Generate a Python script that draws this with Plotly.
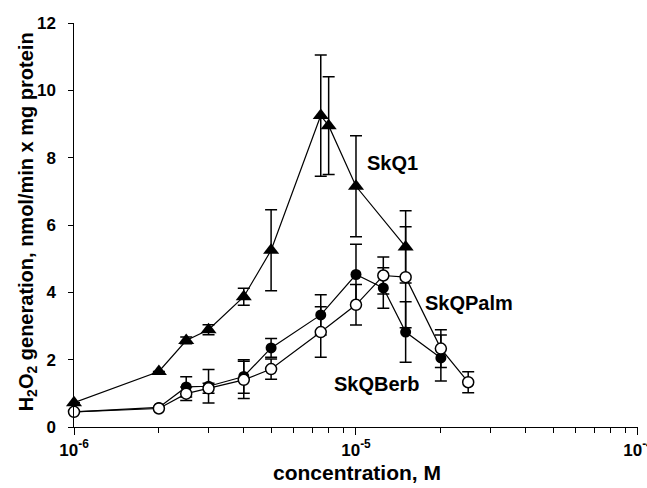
import plotly.graph_objects as go

# SkQ1 (filled triangles)
x_skq1 = [1e-6, 2e-6, 2.5e-6, 3e-6, 4e-6, 5e-6, 7.5e-6, 8e-6, 1e-5, 1.5e-5]
y_skq1 = [0.72, 1.65, 2.57, 2.89, 3.87, 5.25, 9.25, 8.95, 7.15, 5.35]
e_skq1 = [0, 0, 0.1, 0.15, 0.25, 1.2, 1.8, 1.45, 1.5, 1.07]

# filled circles
x_fill = [1e-6, 2e-6, 2.5e-6, 3e-6, 4e-6, 5e-6, 7.5e-6, 1e-5, 1.25e-5, 1.5e-5, 2e-5]
y_fill = [0.45, 0.58, 1.19, 1.21, 1.5, 2.35, 3.33, 4.53, 4.13, 2.82, 2.05]
e_fill = [0, 0, 0.3, 0.5, 0.5, 0.28, 0.6, 0.9, 0.6, 0.9, 0.68]

# open circles
x_open = [1e-6, 2e-6, 2.5e-6, 3e-6, 4e-6, 5e-6, 7.5e-6, 1e-5, 1.25e-5, 1.5e-5, 2e-5, 2.5e-5]
y_open = [0.45, 0.55, 0.99, 1.15, 1.4, 1.72, 2.82, 3.63, 4.5, 4.45, 2.33, 1.33]
e_open = [0, 0, 0.2, 0.15, 0.55, 0.3, 0.75, 0.6, 0.55, 1.5, 0.56, 0.31]

x_major = [1e-6, 1e-5, 1e-4]
x_major_text = ["10<sup>-6</sup>", "10<sup>-5</sup>", "10<sup>-4</sup>"]
y_ticks = [0, 2, 4, 6, 8, 10, 12]
y_tick_text = [f"{v}\u2002" for v in y_ticks]

FONT = "Liberation Sans, Arial, Helvetica, sans-serif"

def err(vals):
    return dict(type="data", array=vals, visible=True, color="black",
                thickness=1.5, width=6)

fig = go.Figure()
fig.add_trace(go.Scatter(x=x_skq1, y=y_skq1, error_y=err(e_skq1), mode="lines+markers",
                         line=dict(color="black", width=1.2), cliponaxis=False,
                         marker=dict(symbol="triangle-up", size=14, color="black"),
                         name="SkQ1"))
fig.add_trace(go.Scatter(x=x_fill, y=y_fill, error_y=err(e_fill), mode="lines+markers",
                         line=dict(color="black", width=1.2), cliponaxis=False,
                         marker=dict(symbol="circle", size=11, color="black"),
                         name="SkQBerb"))
fig.add_trace(go.Scatter(x=x_open, y=y_open, error_y=err(e_open), mode="lines+markers",
                         line=dict(color="black", width=1.2), cliponaxis=False,
                         marker=dict(symbol="circle", size=11, color="white",
                                     line=dict(color="black", width=1.5)),
                         name="SkQPalm"))

minor_vals = [m * 10.0 ** d for d in (-6, -5) for m in range(2, 10)]

fig.update_xaxes(type="log", range=[-6, -3.9999], showgrid=False, zeroline=False,
                 showline=True, linecolor="black", linewidth=1.2, automargin=False,
                 ticks="outside", ticklen=7, tickwidth=1.2, tickcolor="black",
                 tickvals=x_major, ticktext=x_major_text, ticklabeloverflow="allow",
                 tickfont=dict(family=FONT, size=17, color="black", weight="bold"),
                 minor=dict(tickvals=minor_vals, ticks="outside", ticklen=5,
                            tickwidth=1, tickcolor="black", showgrid=False))
fig.update_yaxes(range=[0, 12], showgrid=False, zeroline=False,
                 showline=True, linecolor="black", linewidth=1.2, automargin=False,
                 ticks="outside", ticklen=5, tickwidth=1.2, tickcolor="black",
                 tickvals=y_ticks, ticktext=y_tick_text,
                 tickfont=dict(family=FONT, size=17, color="black", weight="bold"))

xt_font = dict(family=FONT, size=21, color="black", weight="bold")
yt_font = dict(family=FONT, size=20, color="black", weight="bold")
lab_font = dict(family=FONT, size=20, color="black", weight="bold")
anns = [
    dict(text="concentration, M", x=0.502, y=-0.112, font=xt_font),
    dict(text="H<sub>2</sub>O<sub>2</sub> generation, nmol/min x mg protein",
         x=-0.083, y=0.507, textangle=-90, font=yt_font),
    dict(text="SkQ1", x=0.565, y=0.653, font=lab_font),
    dict(text="SkQPalm", x=0.700, y=0.306, font=lab_font),
    dict(text="SkQBerb", x=0.538, y=0.106, font=lab_font),
]
for a in anns:
    fig.add_annotation(xref="paper", yref="paper", showarrow=False,
                       xanchor="center", yanchor="middle", **a)

fig.update_layout(width=647, height=488, showlegend=False,
                  margin=dict(l=74, r=9, t=23, b=61, autoexpand=False),
                  paper_bgcolor="white", plot_bgcolor="white")

fig.write_html("out.html")
